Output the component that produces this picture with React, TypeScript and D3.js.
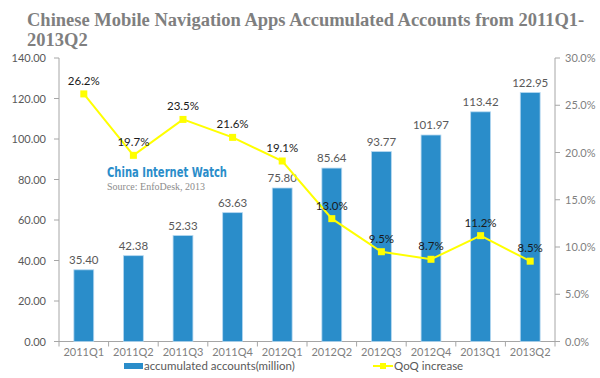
import React from "react";
import * as d3 from "d3";

const categories = ["2011Q1","2011Q2","2011Q3","2011Q4","2012Q1","2012Q2","2012Q3","2012Q4","2013Q1","2013Q2"];
const accounts = [35.40, 42.38, 52.33, 63.63, 75.80, 85.64, 93.77, 101.97, 113.42, 122.95];
const qoq = [26.2, 19.7, 23.5, 21.6, 19.1, 13.0, 9.5, 8.7, 11.2, 8.5];
const leftTicks = [0, 20, 40, 60, 80, 100, 120, 140];
const rightTicks = [0, 5, 10, 15, 20, 25, 30];

const W = 600, H = 378;
const L = 59, R = 555, T = 58, B = 341.5;

export default function App() {
  const x = d3.scaleBand<string>().domain(categories).range([L, R]).paddingInner(0).paddingOuter(0);
  const yL = d3.scaleLinear().domain([0, 140]).range([B, T]);
  const yR = d3.scaleLinear().domain([0, 30]).range([B, T]);
  const bw = x.bandwidth() * 0.4;
  const cx = (c: string) => (x(c) as number) + x.bandwidth() / 2;
  const line = d3.line<number>().x((_, i) => cx(categories[i])).y(d => yR(d));
  const axisFont = "Lato, 'DejaVu Sans', sans-serif";
  const titleFont = "'Liberation Serif', serif";
  return (
    <div style={{ position: "absolute", left: 0, top: 0 }}>
      <svg width={W} height={H} style={{ display: "block", background: "#fff" }}>
        <text x={27} y={26} fontFamily={titleFont} fontWeight="bold" fontSize={18.5} fill="#7f7f7f">Chinese Mobile Navigation Apps Accumulated Accounts from 2011Q1-</text>
        <text x={27} y={46} fontFamily={titleFont} fontWeight="bold" fontSize={18.5} fill="#7f7f7f">2013Q2</text>

        {/* left axis */}
        <line x1={L} x2={L} y1={T} y2={B} stroke="#a6a6a6" />
        {leftTicks.map(t => (
          <g key={"l" + t}>
            <line x1={L - 5} x2={L} y1={yL(t)} y2={yL(t)} stroke="#a6a6a6" />
            <text x={L - 13} y={yL(t) + 4} textAnchor="end" fontSize={11} fontFamily={axisFont} fill="#595959">{t.toFixed(2)}</text>
          </g>
        ))}
        {/* right axis */}
        <line x1={R} x2={R} y1={T} y2={B} stroke="#a6a6a6" />
        {rightTicks.map(t => (
          <g key={"r" + t}>
            <line x1={R} x2={R + 5} y1={yR(t)} y2={yR(t)} stroke="#a6a6a6" />
            <text x={R + 10} y={yR(t) + 4} textAnchor="start" fontSize={11} fontFamily={axisFont} fill="#7f7f7f">{t.toFixed(1)}%</text>
          </g>
        ))}
        {/* x axis */}
        <line x1={L - 5} x2={R + 5} y1={B} y2={B} stroke="#a6a6a6" />
        {categories.map((c, i) => (
          <g key={"x" + c}>
            <line x1={(x(c) as number) + x.bandwidth()} x2={(x(c) as number) + x.bandwidth()} y1={B} y2={B + 5} stroke="#a6a6a6" />
            <text x={cx(c)} y={B + 14.5} textAnchor="middle" fontSize={11} fontFamily={axisFont} fill="#7f7f7f">{c}</text>
          </g>
        ))}
        <line x1={L} x2={L} y1={B} y2={B + 5} stroke="#a6a6a6" />

        {/* bars */}
        {accounts.map((v, i) => (
          <g key={"b" + i}>
            <rect x={cx(categories[i]) - bw / 2} y={yL(v)} width={bw} height={B - yL(v)} fill="#2a8dca" stroke="#b3d7f0" strokeWidth={0.8} />
            <text x={cx(categories[i])} y={yL(v) - 6} textAnchor="middle" fontSize={11.5} fontFamily={axisFont} fill="#595959">{v.toFixed(2)}</text>
          </g>
        ))}

        {/* watermark */}
        <text x={107} y={177} fontFamily="'DejaVu Sans Condensed', 'Liberation Sans Narrow', sans-serif" fontWeight="bold" fontSize={14} fill="#2a8dca" textLength={120} lengthAdjust="spacingAndGlyphs">China Internet Watch</text>
        <text x={107} y={190} fontFamily="'Liberation Serif', serif" fontSize={10} fill="#8c8c8c">Source: EnfoDesk, 2013</text>

        {/* line */}
        <path d={line(qoq) || ""} fill="none" stroke="#ffff00" strokeWidth={2} />
        {qoq.map((v, i) => (
          <g key={"p" + i}>
            <rect x={cx(categories[i]) - 3.5} y={yR(v) - 3.5} width={7} height={7} fill="#ffff00" />
            <text x={cx(categories[i])} y={yR(v) - 9} textAnchor="middle" fontSize={11.5} fontFamily={axisFont} fill="#1a1a1a">{v.toFixed(1)}%</text>
          </g>
        ))}

        {/* legend */}
        <rect x={124} y={363} width={19} height={6} fill="#2a8dca" />
        <text x={144} y={370} fontSize={11.5} fontFamily={axisFont} fill="#595959">accumulated accounts(million)</text>
        <line x1={373} x2={393} y1={366} y2={366} stroke="#ffff00" strokeWidth={2} />
        <rect x={380} y={363} width={6} height={6} fill="#ffff00" />
        <text x={394} y={370} fontSize={11.5} fontFamily={axisFont} fill="#595959">QoQ increase</text>
      </svg>
    </div>
  );
}
